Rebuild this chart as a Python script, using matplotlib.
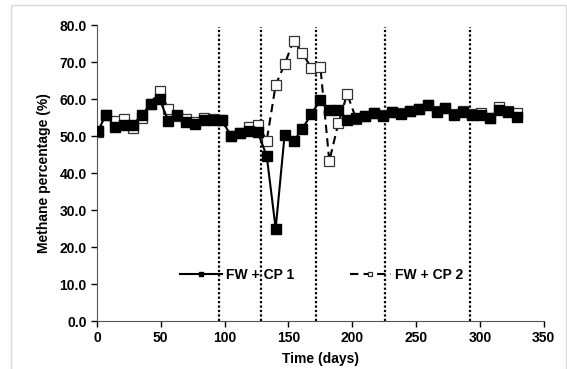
# -*- coding: utf-8 -*-

import matplotlib
matplotlib.use("Agg")
import matplotlib.pyplot as plt
from matplotlib.patches import Rectangle

plt.rcParams["font.family"] = ["Liberation Sans", "DejaVu Sans"]
plt.rcParams["font.weight"] = "bold"

days = [1, 7, 14, 21, 28, 35, 42, 49, 56, 63, 70, 77, 84, 91, 98, 105,
        112, 119, 126, 133, 140, 147, 154, 161, 168, 175, 182, 189, 196, 203,
        210, 217, 224, 231, 238, 245, 252, 259, 266, 273, 280, 287, 294, 301,
        308, 315, 322, 329]

fw_cp1 = [51.5, 55.8, 52.5, 53.0, 53.0, 55.7, 58.6, 60.0, 54.0, 55.8,
          53.7, 53.2, 54.3, 54.3, 54.3, 50.0, 50.7, 51.3, 51.0, 44.6,
          25.0, 50.3, 48.6, 52.0, 56.0, 59.8, 57.0, 57.0, 54.3, 54.8,
          55.5, 56.3, 55.5, 56.6, 56.0, 56.8, 57.2, 58.5, 56.6, 57.6,
          55.7, 56.6, 55.8, 55.8, 54.8, 57.0, 56.6, 55.2]

fw_cp2 = [51.0, 55.8, 54.0, 54.5, 52.2, 55.0, 58.8, 62.3, 57.2, 55.5,
          54.7, 53.8, 54.8, 54.5, 54.3, 50.0, 50.7, 52.5, 53.0, 48.8,
          63.8, 69.4, 75.8, 72.5, 68.3, 68.8, 43.2, 53.4, 61.4, 54.7,
          55.5, 56.3, 55.7, 56.6, 56.2, 56.8, 57.4, 58.5, 56.8, 57.6,
          55.9, 56.8, 56.0, 56.3, 55.0, 57.9, 56.8, 56.3]

phase_days = [95.5, 128.5, 171.5, 226, 292]

fig = plt.figure(figsize=(5.67, 3.69), dpi=100)
ax = fig.add_axes([0.171, 0.130, 0.788, 0.802])

# light grey chart-area border
fig.patches.append(Rectangle((11 / 567, -0.05), 555 / 567, 1.05 - 5 / 369,
                             transform=fig.transFigure, fill=False,
                             edgecolor="#d9d9d9", linewidth=1.0))

for d in phase_days:
    ax.plot([d, d], [0, 79.5], color="black", linestyle=(0, (1, 1)),
            linewidth=1.6, zorder=1)

ax.plot(days, fw_cp2, color="black", linestyle=(0, (4, 2.5)), linewidth=1.5,
        marker="s", markersize=6.5, markerfacecolor="white",
        markeredgecolor="#333333", markeredgewidth=0.9,
        label="FW + CP 2", zorder=2)
ax.plot(days, fw_cp1, color="black", linestyle="-", linewidth=1.5,
        marker="s", markersize=6.5, markerfacecolor="black",
        markeredgecolor="black", label="FW + CP 1", zorder=3)

ax.set_xlim(0, 350)
ax.set_ylim(0, 80)
ax.set_xticks(range(0, 351, 50))
ax.set_yticks(range(0, 81, 10))
ax.set_yticklabels(["%.1f" % v for v in range(0, 81, 10)])
ax.tick_params(direction="out", length=4, width=1, labelsize=10,
               colors="black")
for lab in ax.get_xticklabels() + ax.get_yticklabels():
    lab.set_fontweight("bold")

ax.spines["top"].set_visible(False)
ax.spines["right"].set_visible(False)
ax.spines["left"].set_color("#555555")
ax.spines["bottom"].set_color("#555555")

ax.set_xlabel("Time (days)", fontsize=10, fontweight="bold", labelpad=5)
ax.set_ylabel("Methane percentage (%)", fontsize=10, fontweight="bold",
              labelpad=6)

handles, labels = ax.get_legend_handles_labels()
ax.legend(handles[::-1], labels[::-1], ncol=2, frameon=False,
          loc="center", bbox_to_anchor=(0.503, 0.155), markerscale=0.55,
          handlelength=3.0, handletextpad=0.3, columnspacing=4.0,
          prop={"weight": "bold", "size": 10})

fig.savefig("out.png", dpi=100)
